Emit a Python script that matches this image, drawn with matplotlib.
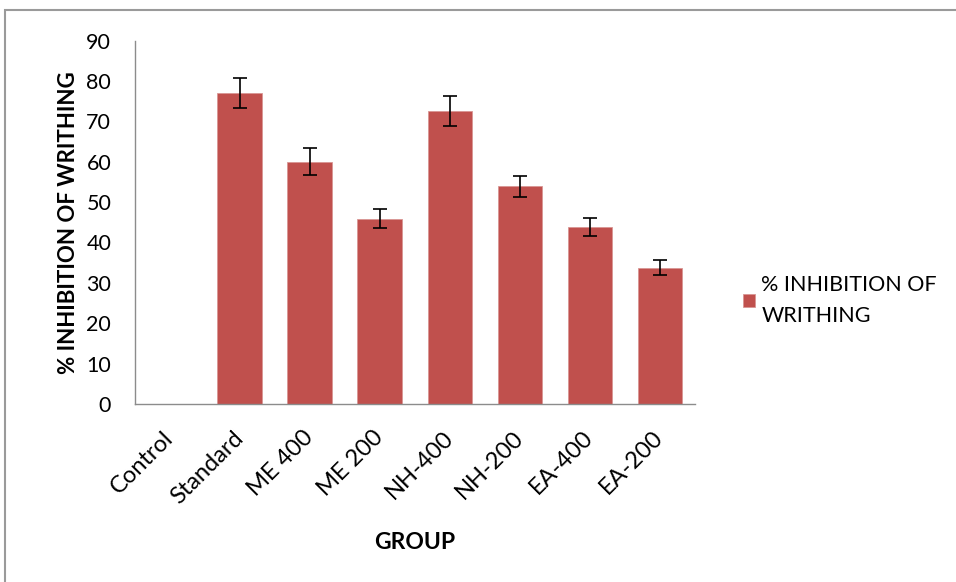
import matplotlib
matplotlib.use("Agg")
import matplotlib.pyplot as plt
from matplotlib.patches import Rectangle

# data
groups = ["Control", "Standard", "ME 400", "ME 200", "NH-400", "NH-200", "EA-400", "EA-200"]
inhibition = [0.0, 77.0, 60.0, 45.9, 72.6, 53.9, 43.9, 33.8]
errors = [0.0, 3.7, 3.3, 2.4, 3.7, 2.7, 2.2, 1.8]
y_ticks = [0, 10, 20, 30, 40, 50, 60, 70, 80, 90]

plt.rcParams['font.family'] = ['Lato', 'DejaVu Sans']

fig = plt.figure(figsize=(9.56, 5.82), dpi=100)
ax = fig.add_axes([0.141, 0.306, 0.586, 0.624])

# outer chart border
fig.patches.append(Rectangle((0.005, -0.05), 1.1, 1.033, transform=fig.transFigure,
                             fill=False, edgecolor="#9a9a9a", linewidth=1.5))

x = list(range(len(groups)))
err = [e if e > 0 else float('nan') for e in errors]
ax.bar(x, inhibition, width=0.64, color="#C0504D", edgecolor="#D99694",
       linewidth=0.6, label="% INHIBITION OF\nWRITHING", zorder=2)
ax.errorbar(x, inhibition, yerr=err, fmt="none", ecolor="black",
            elinewidth=1.2, capsize=5, capthick=1.2, zorder=3)

ax.set_xlim(-0.5, len(groups) - 0.5)
ax.set_ylim(0, 90)
ax.set_yticks(y_ticks)
ax.tick_params(axis="y", length=0, labelsize=15.5, pad=17)
ax.tick_params(axis="x", length=0, labelsize=17, pad=22)
ax.set_xticks(x)
ax.set_xticklabels(groups, rotation=45, ha="right", va="center", rotation_mode="anchor")

for side in ["top", "right"]:
    ax.spines[side].set_visible(False)
for side in ["left", "bottom"]:
    ax.spines[side].set_color("#8c8c8c")
    ax.spines[side].set_linewidth(1.0)

ax.set_ylabel("% INHIBITION OF WRITHING", fontsize=16, fontweight="bold", labelpad=5)
ax.set_xlabel("GROUP", fontsize=16.5, fontweight="bold", labelpad=18)

leg = fig.legend(loc="center left", bbox_to_anchor=(0.757, 0.484), frameon=False,
                 fontsize=15.5, handlelength=0.55, handleheight=0.55, handletextpad=0.3,
                 alignment="left")
for t in leg.get_texts():
    t.set_linespacing(1.7)

fig.savefig("out.png", dpi=100)
